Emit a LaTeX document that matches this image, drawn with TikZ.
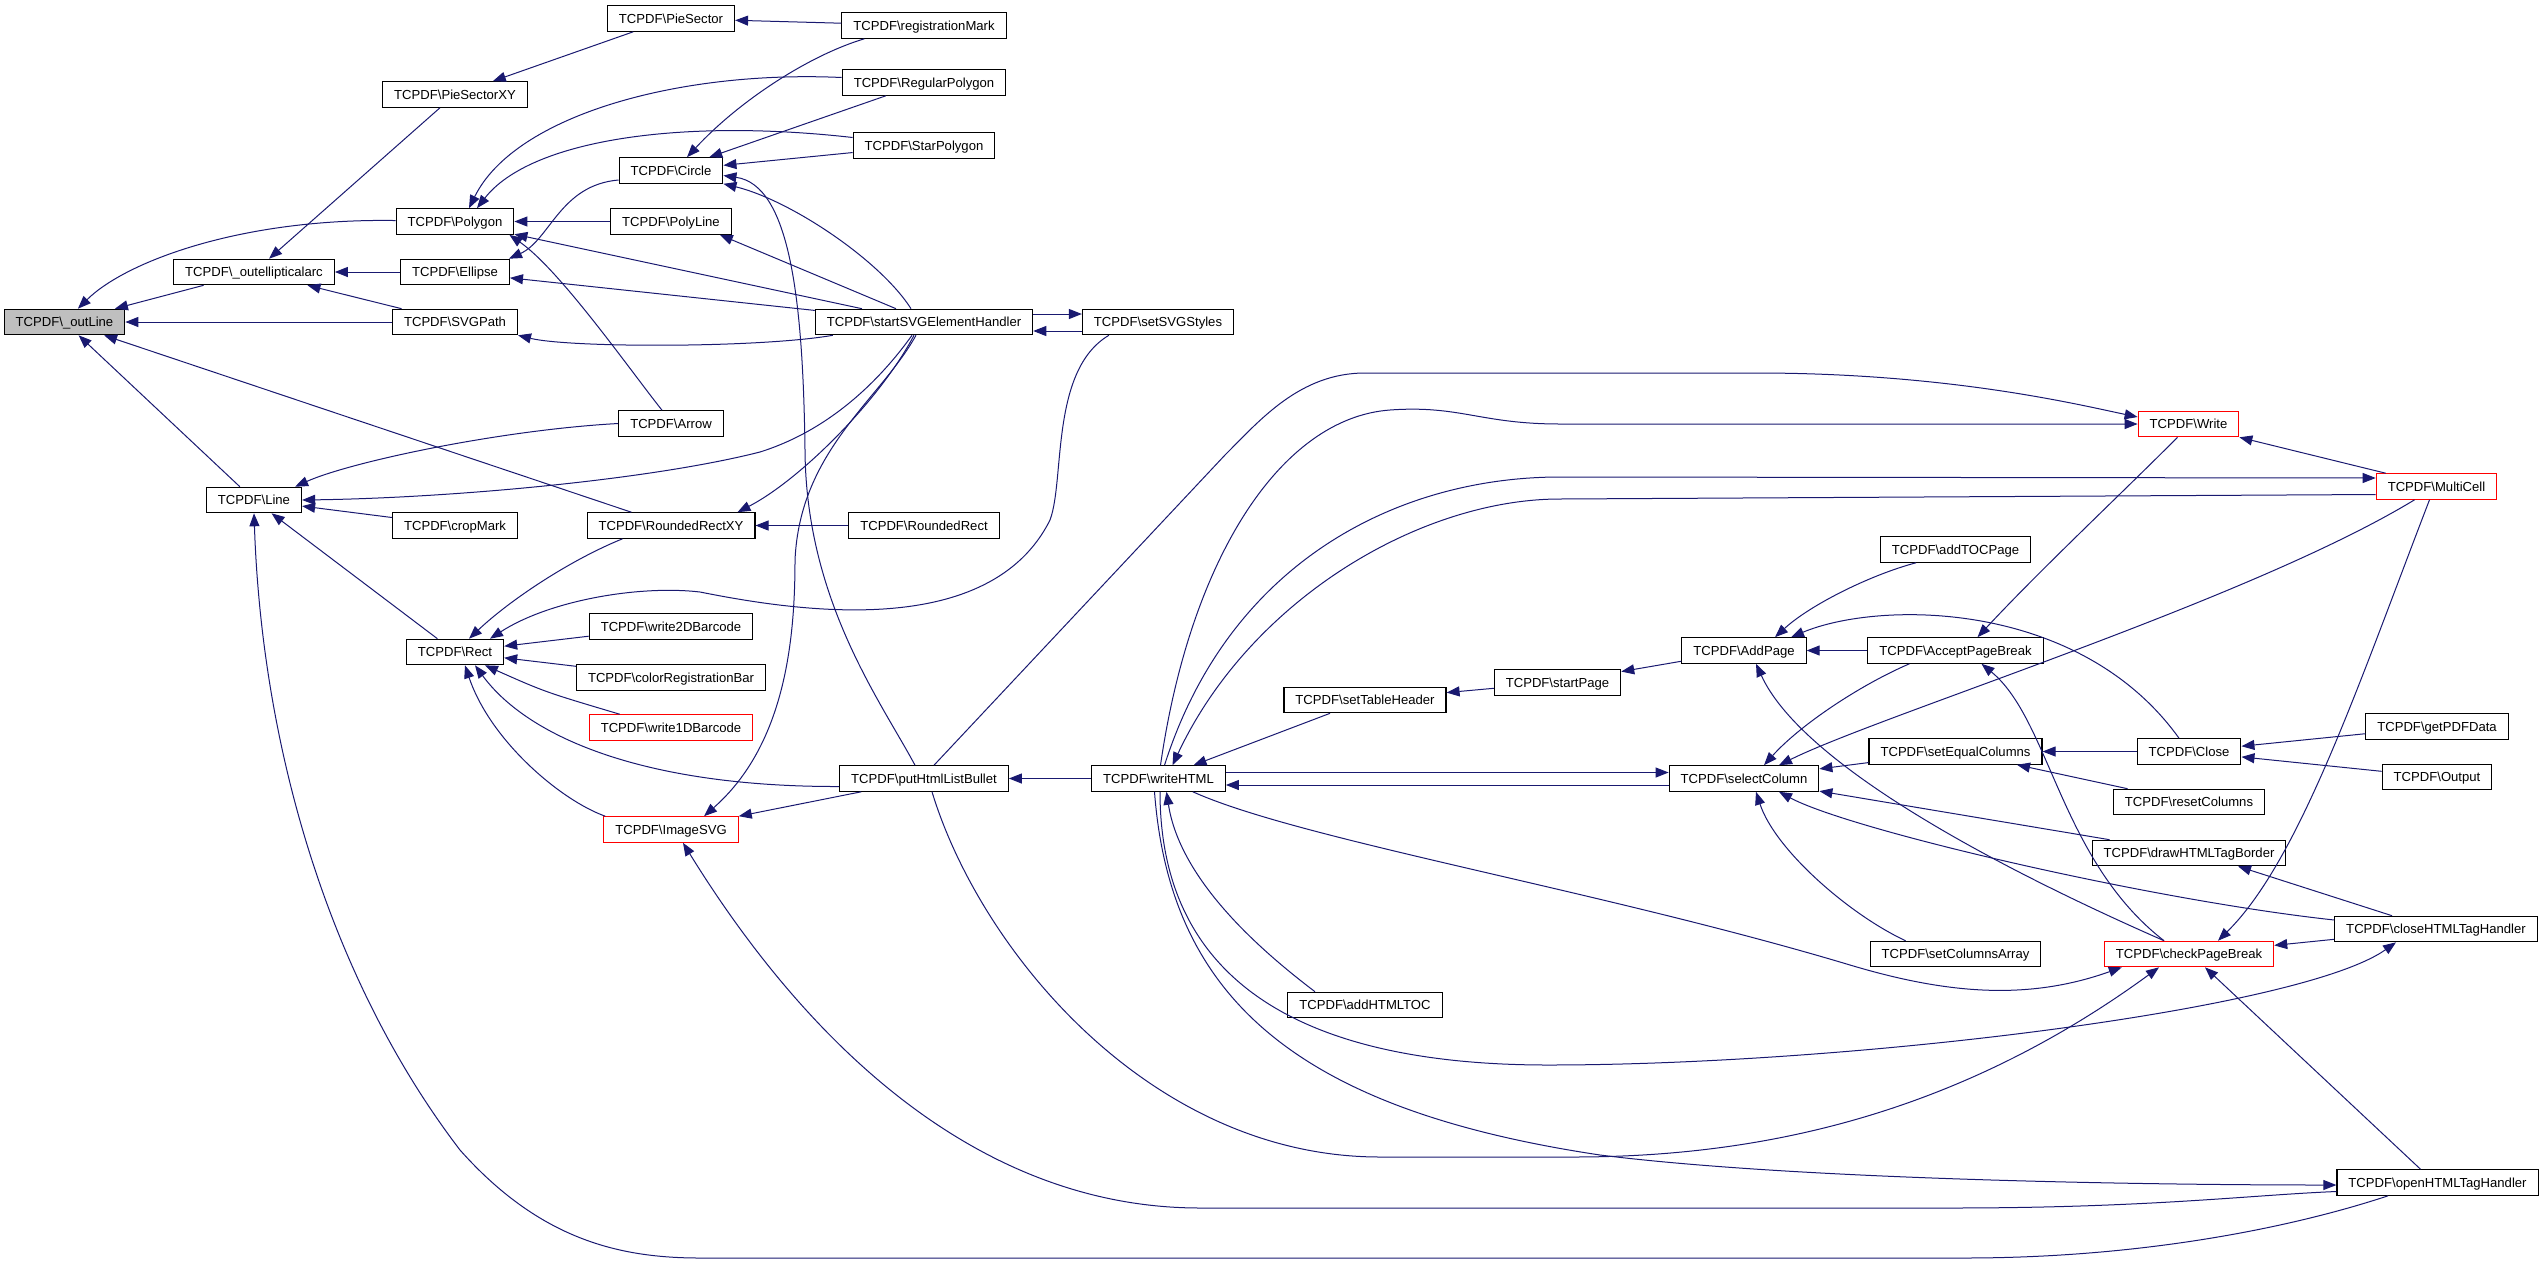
\documentclass[tikz,border=0pt]{standalone}
\usepackage{fontspec}
\setmainfont{Liberation Sans}
\usetikzlibrary{arrows.meta}
\definecolor{midnightblue}{RGB}{25,25,112}
\newcommand{\tcpdf}[1]{TCPDF\textbackslash #1}

\begin{document}
\begin{tikzpicture}[x=1pt, y=-1pt, >={Triangle[length=13pt,width=10pt]},
	fn/.style={draw=black, fill=white, line width=1.1pt, inner xsep=11.5pt, inner ysep=0pt,
		minimum height=25.5pt, text height=9.4pt, text depth=0pt, font=\fontsize{13.1}{15}\selectfont},
	root/.style={fn, fill=gray!50},
	trunc/.style={fn, draw=red},
	call/.style={draw=midnightblue, line width=1pt, <-}]
			\useasboundingbox (0,0) rectangle (2545,1264);
			\node[root] (outline) at (64.5,322) {\tcpdf{\_outLine}};
			\node[fn] (ellarc) at (254,272) {\tcpdf{\_outellipticalarc}};
			\node[fn] (line) at (254,500) {\tcpdf{Line}};
			\node[fn] (piexy) at (455,94.5) {\tcpdf{PieSectorXY}};
			\node[fn] (polygon) at (455,221.5) {\tcpdf{Polygon}};
			\node[fn] (ellipse) at (455,272) {\tcpdf{Ellipse}};
			\node[fn] (svgpath) at (455,322) {\tcpdf{SVGPath}};
			\node[fn] (cropmark) at (455,525.5) {\tcpdf{cropMark}};
			\node[fn] (rect) at (455,652) {\tcpdf{Rect}};
			\node[fn] (piesector) at (671,18.5) {\tcpdf{PieSector}};
			\node[fn] (circle) at (671,170.5) {\tcpdf{Circle}};
			\node[fn] (polyline) at (671,221.5) {\tcpdf{PolyLine}};
			\node[fn] (arrow) at (671,423.5) {\tcpdf{Arrow}};
			\node[fn] (rrxy) at (671,525.5) {\tcpdf{RoundedRectXY}};
			\node[fn] (wtwod) at (671,626.5) {\tcpdf{write2DBarcode}};
			\node[fn] (colorbar) at (671,677.5) {\tcpdf{colorRegistrationBar}};
			\node[trunc] (wone) at (671,727.5) {\tcpdf{write1DBarcode}};
			\node[trunc] (imagesvg) at (671,829.5) {\tcpdf{ImageSVG}};
			\node[fn] (regmark) at (924,25.5) {\tcpdf{registrationMark}};
			\node[fn] (regpoly) at (924,82.5) {\tcpdf{RegularPolygon}};
			\node[fn] (starpoly) at (924,145.5) {\tcpdf{StarPolygon}};
			\node[fn] (startsvg) at (924,322) {\tcpdf{startSVGElementHandler}};
			\node[fn] (rrect) at (924,525.5) {\tcpdf{RoundedRect}};
			\node[fn] (bullet) at (924,778.5) {\tcpdf{putHtmlListBullet}};
			\node[fn] (svgstyles) at (1158,322) {\tcpdf{setSVGStyles}};
			\node[fn] (writehtml) at (1158.5,778.5) {\tcpdf{writeHTML}};
			\node[fn] (tablehdr) at (1365,700) {\tcpdf{setTableHeader}};
			\node[fn] (htmltoc) at (1365,1005) {\tcpdf{addHTMLTOC}};
			\node[fn] (startpage) at (1557.5,682.5) {\tcpdf{startPage}};
			\node[fn] (addpage) at (1744,650.5) {\tcpdf{AddPage}};
			\node[fn] (selcol) at (1744,778.5) {\tcpdf{selectColumn}};
			\node[fn] (tocpage) at (1955.5,549.5) {\tcpdf{addTOCPage}};
			\node[fn] (acceptpb) at (1955.5,650.5) {\tcpdf{AcceptPageBreak}};
			\node[fn] (eqcols) at (1955.5,751.5) {\tcpdf{setEqualColumns}};
			\node[fn] (colsarray) at (1955.5,954) {\tcpdf{setColumnsArray}};
			\node[trunc] (write) at (2188.5,424) {\tcpdf{Write}};
			\node[fn] (close) at (2189,751.5) {\tcpdf{Close}};
			\node[fn] (resetcols) at (2189,802) {\tcpdf{resetColumns}};
			\node[fn] (drawborder) at (2189,853) {\tcpdf{drawHTMLTagBorder}};
			\node[trunc] (checkpb) at (2189,954) {\tcpdf{checkPageBreak}};
			\node[trunc] (multicell) at (2436.5,486.5) {\tcpdf{MultiCell}};
			\node[fn] (getpdf) at (2437,726.5) {\tcpdf{getPDFData}};
			\node[fn] (output) at (2437,777) {\tcpdf{Output}};
			\node[fn] (closehtml) at (2436,929) {\tcpdf{closeHTMLTagHandler}};
			\node[fn] (openhtml) at (2437.5,1182.5) {\tcpdf{openHTMLTagHandler}};
			% callers of the left part
			\draw[call] (outline) .. controls (125,262) and (240,218) .. (polygon);
			\draw[call] (outline) -- (ellarc);
			\draw[call] (outline) -- (svgpath);
			\draw[call] (outline) -- (rrxy);
			\draw[call] (outline) -- (line);
			\draw[call] (ellarc) -- (piexy);
			\draw[call] (ellarc) -- (ellipse);
			\draw[call] (ellarc) -- (svgpath);
			\draw[call] (piexy) -- (piesector);
			\draw[call] (piesector) -- (regmark);
			\draw[call] ([xshift=14pt]polygon.north) .. controls (515,115) and (680,70) .. ([yshift=5pt]regpoly.west);
			\draw[call] ([xshift=22pt]polygon.north) .. controls (530,140) and (680,118) .. ([yshift=8pt]starpoly.west);
			\draw[call] (polygon) -- (polyline);
			\draw[call] (polygon) -- (startsvg);
			\draw[call] ([xshift=-5pt]polygon.south east) .. controls (560,270) and (630,370) .. ([xshift=-9pt]arrow.north);
			\draw[call] ([xshift=16pt]circle.north) .. controls (740,100) and (810,55) .. ([xshift=23pt]regmark.south west);
			\draw[call] (circle) -- (regpoly);
			\draw[call] (circle) -- (starpoly);
			\draw[call] (circle.south east) .. controls (790,200) and (880,260) .. ([xshift=-13pt]startsvg.north);
			\draw[call] ([yshift=-5pt]circle.east) .. controls (790,185) and (803,300) .. (805,450) .. controls (806,600) and (880,700) .. ([xshift=-9pt]bullet.north);
			\draw[call] ([xshift=-1pt]ellipse.north east) .. controls (550,240) and (560,185) .. ([yshift=-9.5pt]circle.west);
			\draw[call] (ellipse) -- (startsvg);
			\draw[call] (svgpath.south east) .. controls (570,348) and (760,348) .. ([xshift=18pt]startsvg.south west);
			\draw[call] ([xshift=-12pt]polyline.south east) -- ([xshift=-28pt]startsvg.north);
			\draw[call] ([yshift=8pt]svgstyles.west) -- ([yshift=8pt]startsvg.east);
			\draw[call] ([yshift=-9pt]startsvg.east) -- ([yshift=-9pt]svgstyles.west);
			\draw[call] ([xshift=35pt]rect.north) .. controls (550,600) and (640,585) .. (700,592) .. controls (800,612) and (990,640) .. (1050,520) .. controls (1065,480) and (1050,370) .. ([xshift=27pt]svgstyles.south west);
			\draw[call] ([xshift=-7pt]line.north east) .. controls (350,462) and (500,430) .. (arrow.west);
			\draw[call] (line.east) .. controls (450,498) and (650,480) .. (760,452) .. controls (830,430) and (880,380) .. ([xshift=-12pt]startsvg.south);
			\draw[call] (line) -- (cropmark);
			\draw[call] (line) -- (rect);
			\draw[call] (line.south) .. controls (262,750) and (330,980) .. (460,1150) .. controls (540,1240) and (620,1258) .. (700,1258) -- (1964,1258) .. controls (2150,1258) and (2300,1225) .. ([xshift=-49.5pt]openhtml.south);
			\draw[call] (rrxy) -- (rrect);
			\draw[call] ([xshift=-18pt]rrxy.north east) .. controls (800,480) and (880,400) .. ([xshift=-10pt]startsvg.south);
			\draw[call] ([xshift=14pt]rect.north) .. controls (510,600) and (570,560) .. ([xshift=36pt]rrxy.south west);
			\draw[call] (rect) -- (wtwod);
			\draw[call] (rect) -- (colorbar);
			\draw[call] (rect) .. controls (545,692) .. ([xshift=31pt]wone.north west);
			\draw[call] ([xshift=20pt]rect.south) .. controls (530,740) and (650,787) .. ([yshift=-8pt]bullet.west);
			\draw[call] ([xshift=10pt]rect.south) .. controls (490,740) and (560,800) .. ([xshift=2pt]imagesvg.north west);
			\draw[call] (imagesvg.north east) -- ([xshift=22pt]bullet.south west);
			\draw[call] ([xshift=33pt]imagesvg.north) .. controls (785,745) and (795,640) .. (795,560) .. controls (800,450) and (880,400) .. ([xshift=-8pt]startsvg.south);
			% callers of the right part
			\draw[call] (bullet) -- (writehtml);
			\draw[call] ([yshift=7pt]write.west) .. controls (2080,405) and (1950,373) .. (1756,373) -- (1365,373) .. controls (1300,373) and (1260,420) .. (1225,455) -- ([xshift=10pt]bullet.north);
			\draw[call] (write.west) -- (1560,424) .. controls (1480,424) and (1460,405) .. (1390,410) .. controls (1280,418) and (1190,560) .. ([xshift=2pt]writehtml.north);
			\draw[call] ([yshift=8.5pt]multicell.west) -- (1560,477) .. controls (1400,477) and (1230,560) .. ([xshift=6pt]writehtml.north);
			\draw[call] ([xshift=14pt]writehtml.north) .. controls (1250,600) and (1420,499) .. (1560,499) -- ([yshift=-8pt]multicell.west);
			\draw[call] ([xshift=22pt]acceptpb.north) .. controls (2040,570) and (2120,495) .. ([xshift=-11pt]write.south);
			\draw[call] (write.south east) -- ([xshift=10pt]multicell.north west);
			\draw[call] ([xshift=35pt]selcol.north) .. controls (1880,715) and (2250,600) .. ([xshift=-22pt]multicell.south);
			\draw[call] ([xshift=29pt]checkpb.north) .. controls (2300,860) and (2360,680) .. ([xshift=-7pt]multicell.south);
			\draw[call] ([xshift=31pt]addpage.north) .. controls (1810,605) and (1870,575) .. ([xshift=36pt]tocpage.south west);
			\draw[call] ([xshift=47pt]addpage.north) .. controls (1880,600) and (2080,600) .. ([xshift=-10pt]close.north);
			\draw[call] (addpage) -- (acceptpb);
			\draw[call] ([xshift=12pt]addpage.south) .. controls (1800,760) and (1980,860) .. ([xshift=-25pt]checkpb.north);
			\draw[call] ([xshift=26pt]acceptpb.south) .. controls (2050,720) and (2060,860) .. ([xshift=-25pt]checkpb.north);
			\draw[call] ([xshift=20pt]selcol.north) .. controls (1800,725) and (1860,685) .. ([xshift=42pt]acceptpb.south west);
			\draw[call] (selcol) -- (eqcols);
			\draw[call] (selcol) -- (drawborder);
			\draw[call] ([xshift=35pt]selcol.south) .. controls (1850,830) and (2150,900) .. ([yshift=9pt]closehtml.west);
			\draw[call] ([xshift=12pt]selcol.south) .. controls (1775,850) and (1850,915) .. ([xshift=36pt]colsarray.north west);
			\draw[call] (eqcols) -- (close);
			\draw[call] (eqcols) -- (resetcols);
			\draw[call] (close) -- (getpdf);
			\draw[call] (close) -- (output);
			\draw[call] ([yshift=6pt]selcol.west) -- ([yshift=6pt]writehtml.east);
			\draw[call] ([yshift=-6.5pt]writehtml.east) -- ([yshift=-6.5pt]selcol.west);
			\draw[call] (startpage) -- (addpage);
			\draw[call] (tablehdr) -- (startpage);
			\draw[call] (writehtml) -- (tablehdr);
			\draw[call] ([xshift=8pt]writehtml.south) .. controls (1180,880) and (1260,950) .. ([xshift=-50pt]htmltoc.north);
			\draw[call] ([xshift=18pt]checkpb.south west) .. controls (2030,1000) and (1950,995) .. (1850,965) .. controls (1600,890) and (1300,840) .. ([xshift=-33pt]writehtml.south east);
			\draw[call] ([xshift=-30pt]checkpb.south) .. controls (1950,1120) and (1750,1157) .. (1573,1157) -- (1380,1157) .. controls (1150,1157) and (980,950) .. ([xshift=8pt]bullet.south);
			\draw[call] (checkpb) -- (closehtml);
			\draw[call] ([xshift=16pt]checkpb.south) -- ([xshift=-17pt]openhtml.north);
			\draw[call] ([xshift=49pt]drawborder.south) -- ([xshift=-44pt]closehtml.north);
			\draw[call] ([xshift=-40pt]closehtml.south) .. controls (2300,1010) and (1850,1065) .. (1548,1065) .. controls (1300,1065) and (1160,980) .. ([xshift=1.5pt]writehtml.south);
			\draw[call] ([yshift=-2.5pt]openhtml.west) .. controls (2150,1185) and (1800,1180) .. (1600,1155) .. controls (1300,1110) and (1170,1000) .. ([xshift=-4pt]writehtml.south);
			\draw[call] ([xshift=12pt]imagesvg.south) .. controls (780,1000) and (950,1208) .. (1200,1208) -- (1950,1208) .. controls (2150,1208) and (2250,1195) .. ([yshift=-9pt]openhtml.west);
\end{tikzpicture}
\end{document}
